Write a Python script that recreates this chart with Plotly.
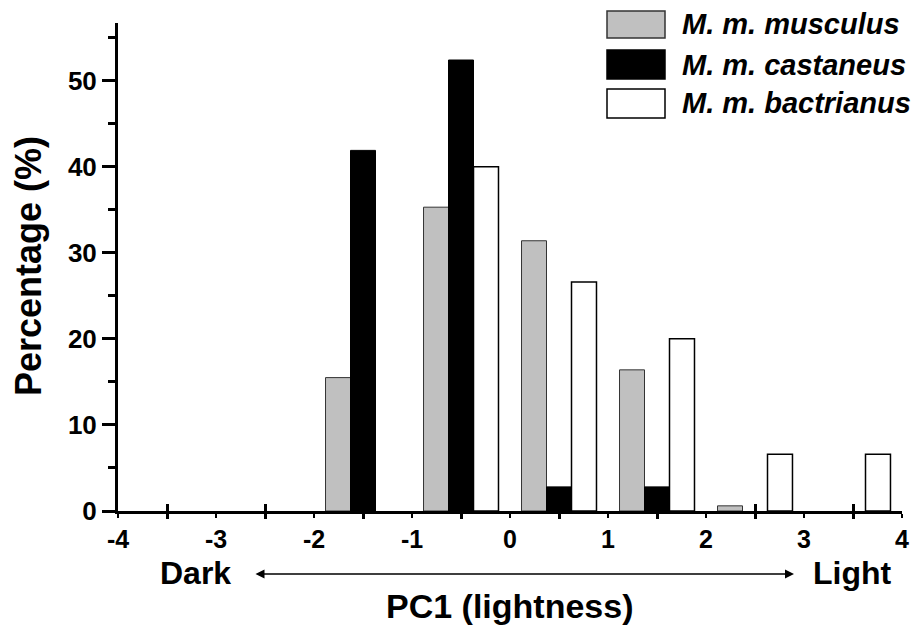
import plotly.graph_objects as go

# ---- data ----
bin_centers = [-3.5, -2.5, -1.5, -0.5, 0.5, 1.5, 2.5, 3.5]
musculus = [None, None, 15.5, 35.3, 31.4, 16.4, 0.6, None]
castaneus = [None, None, 41.9, 52.4, 2.8, 2.8, None, None]
bactrianus = [None, None, None, 40.0, 26.6, 20.0, 6.6, 6.6]
series_names = ["M. m. musculus", "M. m. castaneus", "M. m. bactrianus"]
x_tick_vals = [-4, -3, -2, -1, 0, 1, 2, 3, 4]
x_tick_text = ["-4", "-3", "-2", "-1", "0", "1", "2", "3", "4"]

FONT = "Liberation Sans, Arial, Helvetica, sans-serif"
OFF = 8  # page body margin offset
W, H = 919 - OFF, 630 - OFF
# plot area in window pixels: x 118..902, y 23..511
L, R, T, B = 118 - OFF, 919 - 902, 23 - OFF, 630 - 511
PW, PH = W - L - R, H - T - B


def px_x(p):
    return (p - OFF - L) / PW


def px_y(p):
    return (H - B - (p - OFF)) / PH


fig = go.Figure()
fig.add_trace(go.Bar(x=bin_centers, y=musculus, name=series_names[0],
                     marker=dict(color="#c0c0c0", line=dict(color="#333333", width=1))))
fig.add_trace(go.Bar(x=bin_centers, y=castaneus, name=series_names[1],
                     marker=dict(color="#000000", line=dict(color="#000000", width=1))))
fig.add_trace(go.Bar(x=bin_centers, y=bactrianus, name=series_names[2],
                     marker=dict(color="#ffffff", line=dict(color="#000000", width=1.5))))

fig.update_layout(
    width=W, height=H,
    margin=dict(l=L, r=R, t=T, b=B, autoexpand=False),
    paper_bgcolor="white", plot_bgcolor="white",
    barmode="group", bargap=0.235, bargroupgap=0,
    showlegend=False,
    font=dict(family=FONT, color="black"),
    xaxis=dict(range=[-4, 4], tickvals=x_tick_vals, ticktext=x_tick_text,
               ticks="outside", ticklen=4, tickwidth=2, tickcolor="black",
               showline=True, linecolor="black", linewidth=3,
               showgrid=False, zeroline=False, ticklabelstandoff=0,
               automargin=False,
               tickfont=dict(size=25, family=FONT, weight="bold", color="black")),
    xaxis2=dict(range=[-4, 4], overlaying="x", anchor="y", side="bottom",
                tickmode="linear", tick0=-3.5, dtick=1,
                ticks="outside", ticklen=7, tickwidth=3, tickcolor="black",
                showticklabels=False, showgrid=False, zeroline=False, showline=False),
    xaxis3=dict(range=[-4, 4], overlaying="x", anchor="y", side="bottom",
                tickmode="linear", tick0=-3.5, dtick=1,
                ticks="inside", ticklen=7, tickwidth=3, tickcolor="black",
                showticklabels=False, showgrid=False, zeroline=False, showline=False),
    yaxis=dict(range=[0, 56.7], tickmode="linear", tick0=0, dtick=10,
               ticks="outside", ticklen=13, tickwidth=3, tickcolor="black",
               minor=dict(tick0=0, dtick=5, ticks="outside", ticklen=7,
                          tickwidth=3, tickcolor="black"),
               showline=True, linecolor="black", linewidth=3,
               showgrid=False, zeroline=False, automargin=False,
               tickfont=dict(size=26, family=FONT, weight="bold", color="black")),
)

# dummy traces to activate overlay axes
fig.add_trace(go.Scatter(x=[None], y=[None], xaxis="x2", showlegend=False, hoverinfo="skip"))
fig.add_trace(go.Scatter(x=[None], y=[None], xaxis="x3", showlegend=False, hoverinfo="skip"))

# ---- custom legend ----
leg_fill = ["#c0c0c0", "#000000", "#ffffff"]
leg_line = ["#333333", "#000000", "#000000"]
leg_rows = [(11, 38), (50, 79), (89, 118)]
for i, (y0, y1) in enumerate(leg_rows):
    fig.add_shape(type="rect", xref="paper", yref="paper",
                  x0=px_x(607), x1=px_x(665), y0=px_y(y1), y1=px_y(y0),
                  fillcolor=leg_fill[i], line=dict(color=leg_line[i], width=1.5))
    fig.add_annotation(xref="paper", yref="paper", x=px_x(680), y=px_y((y0 + y1) / 2),
                       xanchor="left", yanchor="middle", showarrow=False,
                       text="<b><i>" + series_names[i] + "</i></b>",
                       font=dict(size=29, family=FONT, color="black"))

# ---- axis titles and arrow ----
fig.add_annotation(xref="paper", yref="paper", x=px_x(28), y=px_y(266),
                   xanchor="center", yanchor="middle", textangle=-90, showarrow=False,
                   text="<b>Percentage (%)</b>", font=dict(size=36, family=FONT, color="black"))
fig.add_annotation(xref="paper", yref="paper", x=px_x(509), y=px_y(606),
                   xanchor="center", yanchor="middle", showarrow=False,
                   text="<b>PC1 (lightness)</b>", font=dict(size=34, family=FONT, color="black"))
fig.add_annotation(xref="paper", yref="paper", x=px_x(195), y=px_y(573),
                   xanchor="center", yanchor="middle", showarrow=False,
                   text="<b>Dark</b>", font=dict(size=32, family=FONT, color="black"))
fig.add_annotation(xref="paper", yref="paper", x=px_x(852), y=px_y(573),
                   xanchor="center", yanchor="middle", showarrow=False,
                   text="<b>Light</b>", font=dict(size=32, family=FONT, color="black"))
fig.add_annotation(xref="paper", yref="paper", x=px_x(794), y=px_y(574),
                   ax=-(794 - 254), ay=0, text="", showarrow=True,
                   arrowhead=2, arrowside="end+start", arrowsize=1.2,
                   arrowwidth=1.5, arrowcolor="black")

fig.write_html("out.html")
